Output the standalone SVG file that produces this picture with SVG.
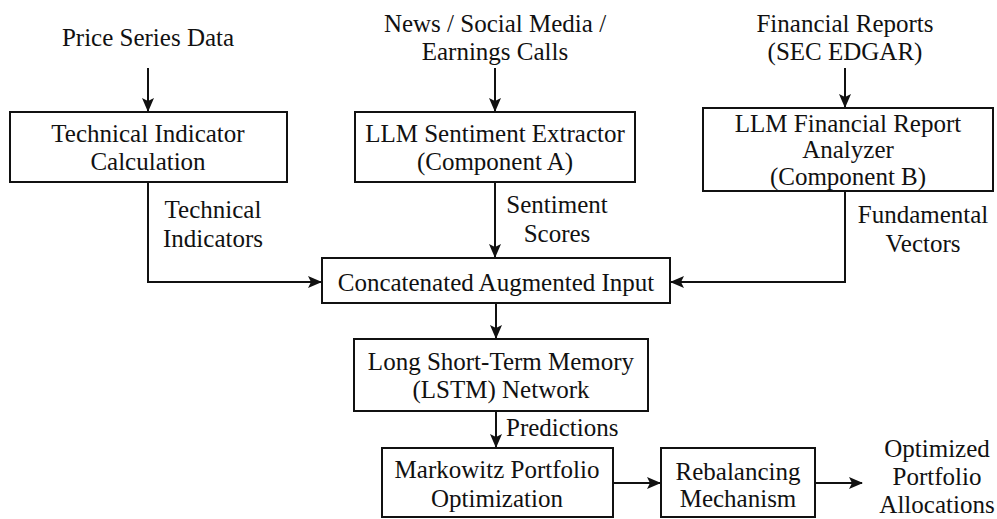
<svg xmlns="http://www.w3.org/2000/svg" width="997" height="519" viewBox="0 0 997 519">
<defs>
<marker id="ah" markerWidth="14" markerHeight="14" viewBox="0 0 14 14" refX="13" refY="7" orient="auto" markerUnits="userSpaceOnUse">
<path d="M0,1 L14,7 L0,13 L3,7 Z" fill="#111"/>
</marker>
</defs>
<style>
text{font-family:"Liberation Serif","Times New Roman",serif;font-size:25px;fill:#111;text-anchor:middle}
.box{fill:#fff;stroke:#111;stroke-width:2}
.ln{fill:none;stroke:#111;stroke-width:2;marker-end:url(#ah)}
.lbl{text-anchor:start}
</style>
<rect width="997" height="519" fill="#fff"/>
<g id="connectors">
<line class="ln" x1="148" y1="68" x2="148" y2="111"/>
<line class="ln" x1="495" y1="68" x2="495" y2="111"/>
<line class="ln" x1="845" y1="68" x2="845" y2="107"/>
<polyline class="ln" points="148,182 148,282 321,282"/>
<line class="ln" x1="495" y1="182" x2="495" y2="257"/>
<polyline class="ln" points="845,191 845,282 671,282"/>
<line class="ln" x1="496" y1="303" x2="496" y2="338"/>
<line class="ln" x1="496" y1="411" x2="496" y2="447"/>
<line class="ln" x1="613" y1="483" x2="660" y2="483"/>
<line class="ln" x1="815" y1="483" x2="862" y2="483"/>
<text x="213" y="218">Technical</text>
<text x="213" y="247">Indicators</text>
<text x="557" y="213">Sentiment</text>
<text x="557" y="242">Scores</text>
<text x="923" y="223">Fundamental</text>
<text x="923" y="252">Vectors</text>
<text class="lbl" x="506" y="436">Predictions</text>
</g>
<g id="src-price">
<text x="148" y="46">Price Series Data</text>
</g>
<g id="src-news">
<text x="495" y="32">News / Social Media /</text>
<text x="495" y="60">Earnings Calls</text>
</g>
<g id="src-fin">
<text x="845" y="32">Financial Reports</text>
<text x="845" y="60">(SEC EDGAR)</text>
</g>
<g id="tech">
<rect class="box" x="10" y="112" width="277" height="70"/>
<text x="148" y="142">Technical Indicator</text>
<text x="148" y="170">Calculation</text>
</g>
<g id="sent">
<rect class="box" x="355" y="112" width="280" height="70"/>
<text x="495" y="142">LLM Sentiment Extractor</text>
<text x="495" y="170">(Component A)</text>
</g>
<g id="finrep">
<rect class="box" x="703" y="108" width="290" height="83"/>
<text x="848" y="132">LLM Financial Report</text>
<text x="848" y="158">Analyzer</text>
<text x="848" y="185">(Component B)</text>
</g>
<g id="concat">
<rect class="box" x="322" y="258" width="348" height="45"/>
<text x="496" y="291">Concatenated Augmented Input</text>
</g>
<g id="lstm">
<rect class="box" x="354" y="339" width="294" height="72"/>
<text x="501" y="370">Long Short-Term Memory</text>
<text x="501" y="398">(LSTM) Network</text>
</g>
<g id="markowitz">
<rect class="box" x="382" y="448" width="231" height="69"/>
<text x="497" y="478">Markowitz Portfolio</text>
<text x="497" y="507">Optimization</text>
</g>
<g id="rebal">
<rect class="box" x="661" y="448" width="154" height="69"/>
<text x="738" y="480">Rebalancing</text>
<text x="738" y="507">Mechanism</text>
</g>
<g id="output">
<text x="937" y="457">Optimized</text>
<text x="937" y="485">Portfolio</text>
<text x="937" y="513">Allocations</text>
</g>
</svg>
